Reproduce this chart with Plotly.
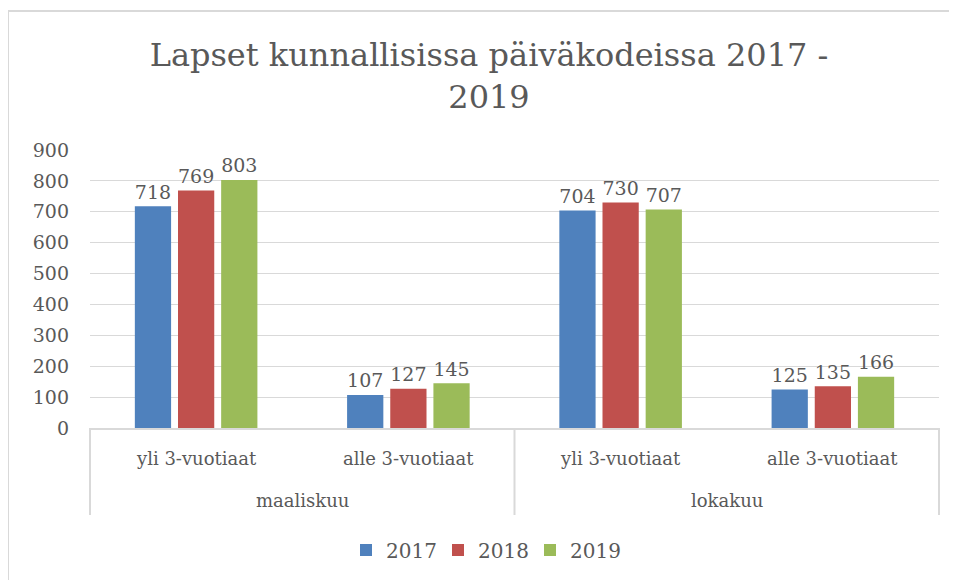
import plotly.graph_objects as go

months = ["maaliskuu", "maaliskuu", "lokakuu", "lokakuu"]
groups = ["yli 3-vuotiaat", "alle 3-vuotiaat", "yli 3-vuotiaat", "alle 3-vuotiaat"]
month_labels = ["maaliskuu", "lokakuu"]
years = ["2017", "2018", "2019"]
values_2017 = [718, 107, 704, 125]
values_2018 = [769, 127, 730, 135]
values_2019 = [803, 145, 707, 166]
colors = ["#4F81BD", "#C0504D", "#9BBB59"]
yticks = [0, 100, 200, 300, 400, 500, 600, 700, 800, 900]

FONT = "DejaVu Serif"
GRAY = "#595959"
LINE = "#D9D9D9"

fig = go.Figure()
for name, vals, col in zip(years, [values_2017, values_2018, values_2019], colors):
    fig.add_trace(go.Bar(
        name=name, x=[months, groups], y=vals,
        marker=dict(color=col, line=dict(width=0)),
        text=[str(v) for v in vals], textposition="outside",
        textfont=dict(family=FONT, size=21, color=GRAY),
        cliponaxis=False,
    ))

# page body has an 8px margin; work in screen pixels and convert
OFF = 8
W, H = 957 - OFF, 580 - OFF
L, T = 90 - OFF, 150 - OFF
R = W - (939 - OFF)
B = H - (428 - OFF)
pw, ph = W - L - R, H - T - B

def py(sy):
    return (H - B - (sy - OFF)) / ph

def px(sx):
    return ((sx - OFF) - L) / pw

annotations = []
for i, g in enumerate(groups):
    annotations.append(dict(text=g, xref="paper", yref="paper", x=(i + 0.5) / len(groups),
                            y=py(458), xanchor="center", yanchor="middle", showarrow=False,
                            font=dict(family=FONT, size=18, color=GRAY)))
for i, m in enumerate(month_labels):
    annotations.append(dict(text=m, xref="paper", yref="paper", x=(i + 0.5) / len(month_labels),
                            y=py(500), xanchor="center", yanchor="middle", showarrow=False,
                            font=dict(family=FONT, size=18, color=GRAY)))

shapes = [dict(type="rect", xref="paper", yref="paper",
               x0=px(OFF + 0), x1=px(W + 30), y0=py(H + 30), y1=py(11),
               line=dict(color=LINE, width=2), fillcolor="rgba(0,0,0,0)", layer="below")]
for xd in [0, 0.5, 1]:
    shapes.append(dict(type="line", xref="paper", yref="paper", x0=xd, x1=xd,
                       y0=0, y1=py(515), line=dict(color=LINE, width=2)))

fig.update_layout(
    width=W, height=H,
    margin=dict(l=L, r=R, t=T, b=B, autoexpand=False),
    paper_bgcolor="white", plot_bgcolor="white",
    barmode="group", bargap=0.39, bargroupgap=0.16,
    title=dict(text="Lapset kunnallisissa päiväkodeissa 2017 -<br>2019",
               xref="container", x=(489 - OFF) / W, xanchor="center",
               y=1 - (66 - OFF) / H, yanchor="middle",
               font=dict(family=FONT, size=32, color=GRAY)),
    font=dict(family=FONT, size=17, color=GRAY),
    legend=dict(orientation="h", x=px(484), xanchor="center", y=py(550),
                yanchor="middle", font=dict(family=FONT, size=20, color=GRAY),
                itemwidth=30, entrywidth=47, entrywidthmode="pixels",
                traceorder="normal"),
    showlegend=True,
    yaxis=dict(range=[0, 900], tickvals=yticks, showgrid=True, gridcolor=LINE,
               gridwidth=1, zeroline=False, showline=False, ticks="", automargin=False,
               tickfont=dict(family=FONT, size=19, color=GRAY), ticklabelstandoff=20),
    xaxis=dict(type="multicategory", showline=True, linecolor=LINE, linewidth=2,
               showticklabels=False, showdividers=False, ticks="", automargin=False),
    annotations=annotations,
    shapes=shapes,
)

fig.write_html("out.html")
